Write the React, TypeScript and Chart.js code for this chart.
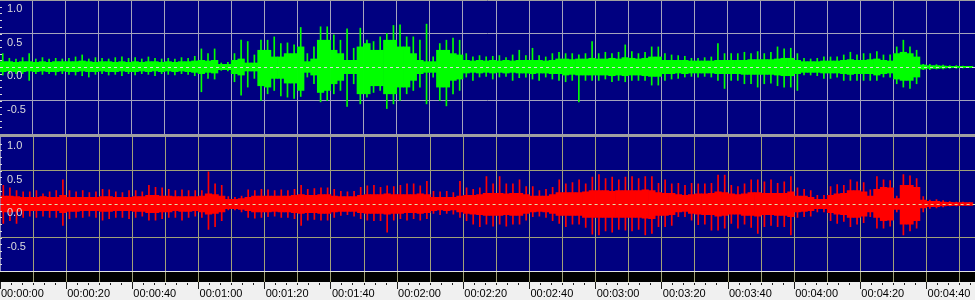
import React, { useEffect, useRef } from 'react';
import { Chart, registerables } from 'chart.js';

Chart.register(...registerables);

// ---- axis / tick data ----
const BIN_SECONDS = 2; // each envelope value covers 2 s of audio
const X_MIN = 0.18;
const X_MAX = 294.64;
const TIME_GRID = [0, 10, 20, 30, 40, 50, 60, 70, 80, 90, 100, 110, 120, 130, 140, 150, 160, 170, 180, 190, 200, 210, 220, 230, 240, 250, 260, 270, 280, 290];
const Y_TICKS = [-1, -0.5, 0, 0.5, 1];
const Y_LABELS = [1, 0.5, 0, -0.5];
const Y_MINOR = [-0.9, -0.8, -0.7, -0.6, -0.5, -0.4, -0.3, -0.2, -0.1, 0, 0.1, 0.2, 0.3, 0.4, 0.5, 0.6, 0.7, 0.8, 0.9];

// ---- green (top channel) envelope, 2 s bins ----
const greenBodyHi = [
  0.08, 0.08, 0.07, 0.08, 0.08, 0.07, 0.08, 0.07, 0.08, 0.08,
  0.08, 0.08, 0.09, 0.08, 0.07, 0.08, 0.08, 0.07, 0.08, 0.07,
  0.08, 0.07, 0.08, 0.08, 0.07, 0.08, 0.07, 0.08, 0.08, 0.09,
  0.1, 0.09, 0.1, 0.04, 0.04, 0.1, 0.12, 0.06, 0.06, 0.25,
  0.25, 0.15, 0.15, 0.2, 0.2, 0.3, 0.08, 0.12, 0.4, 0.4,
  0.25, 0.2, 0.1, 0.1, 0.3, 0.35, 0.25, 0.25, 0.4, 0.4,
  0.3, 0.3, 0.2, 0.1, 0.08, 0.08, 0.25, 0.25, 0.2, 0.18,
  0.1, 0.09, 0.1, 0.09, 0.1, 0.09, 0.1, 0.09, 0.1, 0.1,
  0.1, 0.1, 0.09, 0.1, 0.12, 0.12, 0.11, 0.12, 0.12, 0.13,
  0.12, 0.12, 0.13, 0.12, 0.14, 0.13, 0.12, 0.13, 0.15, 0.15,
  0.1, 0.1, 0.1, 0.1, 0.09, 0.09, 0.09, 0.09, 0.1, 0.1,
  0.1, 0.1, 0.1, 0.11, 0.11, 0.11, 0.11, 0.12, 0.13, 0.13,
  0.1, 0.08, 0.08, 0.08, 0.09, 0.09, 0.09, 0.1, 0.11, 0.1,
  0.1, 0.11, 0.12, 0.1, 0.09, 0.2, 0.22, 0.2, 0.15, 0.03,
  0.02, 0.02, 0.015, 0.01, 0.01, 0.01, 0.01,
];
const greenBodyLo = [
  -0.07, -0.06, -0.07, -0.07, -0.06, -0.07, -0.06, -0.07, -0.07, -0.06,
  -0.07, -0.07, -0.06, -0.07, -0.07, -0.06, -0.07, -0.07, -0.06, -0.07,
  -0.07, -0.06, -0.07, -0.06, -0.07, -0.06, -0.07, -0.06, -0.07, -0.08,
  -0.1, -0.08, -0.09, -0.04, -0.04, -0.1, -0.12, -0.06, -0.06, -0.28,
  -0.3, -0.17, -0.17, -0.24, -0.24, -0.35, -0.08, -0.12, -0.38, -0.35,
  -0.25, -0.2, -0.1, -0.1, -0.4, -0.4, -0.28, -0.28, -0.4, -0.4,
  -0.3, -0.3, -0.2, -0.1, -0.08, -0.08, -0.3, -0.3, -0.2, -0.18,
  -0.09, -0.08, -0.09, -0.08, -0.09, -0.08, -0.09, -0.08, -0.09, -0.09,
  -0.1, -0.09, -0.09, -0.1, -0.1, -0.12, -0.11, -0.12, -0.12, -0.12,
  -0.12, -0.12, -0.13, -0.12, -0.13, -0.12, -0.12, -0.13, -0.14, -0.14,
  -0.1, -0.1, -0.09, -0.1, -0.09, -0.09, -0.09, -0.09, -0.1, -0.1,
  -0.1, -0.1, -0.11, -0.11, -0.11, -0.11, -0.11, -0.12, -0.13, -0.13,
  -0.1, -0.08, -0.08, -0.08, -0.09, -0.09, -0.09, -0.1, -0.11, -0.1,
  -0.1, -0.1, -0.12, -0.1, -0.09, -0.18, -0.2, -0.2, -0.15, -0.03,
  -0.02, -0.02, -0.015, -0.01, -0.01, -0.01, -0.01,
];
const greenPeakHi = [
  0.2, 0.13, 0.12, 0.14, 0.2, 0.12, 0.14, 0.12, 0.13, 0.12,
  0.13, 0.15, 0.18, 0.12, 0.14, 0.13, 0.12, 0.14, 0.15, 0.13,
  0.14, 0.12, 0.15, 0.13, 0.12, 0.13, 0.12, 0.14, 0.13, 0.16,
  0.27, 0.2, 0.27, 0.06, 0.07, 0.2, 0.4, 0.38, 0.18, 0.4,
  0.4, 0.45, 0.35, 0.36, 0.33, 0.59, 0.2, 0.3, 0.6, 0.6,
  0.48, 0.4, 0.57, 0.28, 0.58, 0.4, 0.38, 0.45, 0.5, 0.62,
  0.63, 0.45, 0.45, 0.4, 0.64, 0.15, 0.35, 0.4, 0.43, 0.4,
  0.2, 0.15, 0.17, 0.15, 0.16, 0.17, 0.14, 0.18, 0.25, 0.17,
  0.28, 0.17, 0.15, 0.2, 0.22, 0.2, 0.2, 0.18, 0.2, 0.38,
  0.2, 0.22, 0.2, 0.22, 0.33, 0.23, 0.2, 0.22, 0.3, 0.3,
  0.2, 0.18, 0.17, 0.16, 0.13, 0.13, 0.14, 0.15, 0.35, 0.2,
  0.2, 0.2, 0.22, 0.2, 0.23, 0.2, 0.22, 0.3, 0.27, 0.28,
  0.2, 0.13, 0.12, 0.13, 0.15, 0.15, 0.15, 0.18, 0.22, 0.18,
  0.2, 0.2, 0.23, 0.18, 0.18, 0.3, 0.4, 0.3, 0.25, 0.04,
  0.04, 0.035, 0.03, 0.02, 0.02, 0.015, 0.01,
];
const greenPeakLo = [
  -0.12, -0.1, -0.1, -0.1, -0.2, -0.1, -0.11, -0.1, -0.12, -0.1,
  -0.11, -0.12, -0.13, -0.15, -0.11, -0.1, -0.12, -0.11, -0.13, -0.1,
  -0.12, -0.1, -0.11, -0.13, -0.1, -0.11, -0.12, -0.1, -0.11, -0.13,
  -0.37, -0.17, -0.18, -0.05, -0.06, -0.22, -0.42, -0.3, -0.17, -0.5,
  -0.4, -0.35, -0.43, -0.45, -0.47, -0.44, -0.15, -0.25, -0.52, -0.5,
  -0.4, -0.35, -0.59, -0.25, -0.55, -0.45, -0.38, -0.35, -0.62, -0.55,
  -0.5, -0.4, -0.35, -0.3, -0.55, -0.15, -0.5, -0.58, -0.4, -0.35,
  -0.15, -0.2, -0.15, -0.14, -0.18, -0.15, -0.14, -0.2, -0.16, -0.15,
  -0.18, -0.2, -0.15, -0.18, -0.2, -0.22, -0.2, -0.52, -0.2, -0.2,
  -0.2, -0.18, -0.22, -0.2, -0.22, -0.2, -0.2, -0.2, -0.27, -0.27,
  -0.2, -0.18, -0.17, -0.15, -0.14, -0.15, -0.14, -0.15, -0.2, -0.32,
  -0.2, -0.2, -0.25, -0.25, -0.3, -0.25, -0.24, -0.28, -0.3, -0.3,
  -0.35, -0.12, -0.12, -0.13, -0.17, -0.17, -0.15, -0.2, -0.2, -0.2,
  -0.2, -0.2, -0.2, -0.15, -0.15, -0.25, -0.3, -0.32, -0.25, -0.04,
  -0.04, -0.03, -0.03, -0.02, -0.02, -0.015, -0.01,
];

// ---- red (bottom channel) envelope, 2 s bins ----
const redBodyHi = [
  0.12, 0.12, 0.11, 0.1, 0.1, 0.1, 0.11, 0.1, 0.1, 0.13,
  0.1, 0.1, 0.1, 0.1, 0.1, 0.11, 0.11, 0.1, 0.1, 0.1,
  0.11, 0.11, 0.13, 0.13, 0.12, 0.12, 0.11, 0.11, 0.11, 0.11,
  0.12, 0.15, 0.14, 0.12, 0.07, 0.07, 0.08, 0.1, 0.12, 0.12,
  0.12, 0.12, 0.12, 0.12, 0.13, 0.14, 0.13, 0.13, 0.14, 0.14,
  0.12, 0.11, 0.11, 0.11, 0.13, 0.14, 0.14, 0.14, 0.15, 0.14,
  0.14, 0.14, 0.14, 0.15, 0.14, 0.1, 0.1, 0.1, 0.1, 0.12,
  0.13, 0.13, 0.14, 0.16, 0.16, 0.16, 0.15, 0.16, 0.16, 0.14,
  0.12, 0.12, 0.12, 0.14, 0.17, 0.17, 0.17, 0.17, 0.18, 0.2,
  0.2, 0.2, 0.19, 0.2, 0.2, 0.2, 0.2, 0.21, 0.2, 0.17,
  0.16, 0.16, 0.14, 0.13, 0.14, 0.15, 0.15, 0.16, 0.18, 0.17,
  0.15, 0.14, 0.15, 0.17, 0.17, 0.16, 0.16, 0.16, 0.16, 0.18,
  0.12, 0.12, 0.1, 0.07, 0.07, 0.13, 0.15, 0.16, 0.2, 0.2,
  0.18, 0.12, 0.22, 0.25, 0.24, 0.08, 0.28, 0.28, 0.25, 0.06,
  0.04, 0.04, 0.03, 0.025, 0.02, 0.02, 0.02,
];
const redBodyLo = [
  -0.12, -0.12, -0.11, -0.1, -0.1, -0.1, -0.1, -0.1, -0.1, -0.13,
  -0.11, -0.11, -0.1, -0.1, -0.1, -0.11, -0.11, -0.1, -0.1, -0.1,
  -0.11, -0.11, -0.13, -0.13, -0.12, -0.12, -0.1, -0.11, -0.11, -0.1,
  -0.12, -0.15, -0.14, -0.12, -0.07, -0.07, -0.08, -0.1, -0.12, -0.12,
  -0.12, -0.11, -0.12, -0.12, -0.13, -0.14, -0.13, -0.13, -0.14, -0.14,
  -0.12, -0.11, -0.11, -0.11, -0.13, -0.14, -0.14, -0.14, -0.15, -0.14,
  -0.14, -0.13, -0.13, -0.14, -0.13, -0.1, -0.09, -0.1, -0.09, -0.12,
  -0.14, -0.15, -0.16, -0.17, -0.17, -0.17, -0.16, -0.17, -0.17, -0.14,
  -0.12, -0.11, -0.12, -0.14, -0.17, -0.17, -0.17, -0.17, -0.2, -0.2,
  -0.2, -0.2, -0.2, -0.2, -0.2, -0.2, -0.2, -0.21, -0.22, -0.17,
  -0.17, -0.16, -0.12, -0.11, -0.14, -0.15, -0.16, -0.16, -0.18, -0.17,
  -0.15, -0.15, -0.17, -0.17, -0.18, -0.16, -0.16, -0.17, -0.17, -0.19,
  -0.12, -0.11, -0.1, -0.07, -0.07, -0.13, -0.15, -0.16, -0.2, -0.2,
  -0.18, -0.12, -0.2, -0.25, -0.24, -0.08, -0.3, -0.3, -0.25, -0.06,
  -0.04, -0.04, -0.03, -0.025, -0.02, -0.02, -0.02,
];
const redPeakHi = [
  0.28, 0.24, 0.2, 0.18, 0.18, 0.2, 0.15, 0.18, 0.2, 0.36,
  0.2, 0.18, 0.2, 0.17, 0.18, 0.22, 0.21, 0.18, 0.17, 0.2,
  0.2, 0.18, 0.28, 0.25, 0.24, 0.22, 0.2, 0.21, 0.2, 0.2,
  0.2, 0.48, 0.3, 0.28, 0.11, 0.1, 0.12, 0.21, 0.2, 0.22,
  0.21, 0.2, 0.21, 0.2, 0.22, 0.28, 0.22, 0.23, 0.24, 0.24,
  0.22, 0.19, 0.18, 0.19, 0.25, 0.27, 0.28, 0.25, 0.27, 0.26,
  0.28, 0.3, 0.3, 0.27, 0.34, 0.19, 0.18, 0.19, 0.17, 0.34,
  0.24, 0.22, 0.24, 0.41, 0.3, 0.41, 0.3, 0.3, 0.36, 0.26,
  0.26, 0.2, 0.22, 0.25, 0.36, 0.3, 0.32, 0.36, 0.3, 0.4,
  0.44, 0.38, 0.4, 0.36, 0.4, 0.41, 0.38, 0.41, 0.41, 0.31,
  0.36, 0.3, 0.31, 0.28, 0.31, 0.3, 0.3, 0.31, 0.43, 0.43,
  0.28, 0.26, 0.3, 0.36, 0.36, 0.33, 0.36, 0.31, 0.33, 0.41,
  0.24, 0.22, 0.2, 0.13, 0.13, 0.26, 0.29, 0.28, 0.36, 0.33,
  0.32, 0.21, 0.41, 0.36, 0.35, 0.12, 0.44, 0.42, 0.38, 0.11,
  0.06, 0.065, 0.05, 0.035, 0.03, 0.03, 0.025,
];
const redPeakLo = [
  -0.29, -0.25, -0.29, -0.2, -0.18, -0.2, -0.18, -0.2, -0.2, -0.32,
  -0.22, -0.2, -0.2, -0.18, -0.2, -0.24, -0.22, -0.2, -0.2, -0.22,
  -0.2, -0.18, -0.24, -0.24, -0.22, -0.2, -0.2, -0.24, -0.2, -0.18,
  -0.2, -0.38, -0.34, -0.25, -0.09, -0.09, -0.12, -0.2, -0.21, -0.2,
  -0.19, -0.18, -0.2, -0.2, -0.22, -0.32, -0.24, -0.23, -0.24, -0.24,
  -0.2, -0.17, -0.16, -0.18, -0.22, -0.24, -0.25, -0.25, -0.42, -0.24,
  -0.22, -0.24, -0.22, -0.24, -0.22, -0.14, -0.16, -0.14, -0.15, -0.2,
  -0.25, -0.3, -0.34, -0.3, -0.33, -0.3, -0.33, -0.3, -0.3, -0.24,
  -0.19, -0.18, -0.2, -0.25, -0.29, -0.34, -0.3, -0.3, -0.35, -0.45,
  -0.46, -0.4, -0.42, -0.38, -0.39, -0.4, -0.38, -0.46, -0.44, -0.34,
  -0.34, -0.32, -0.19, -0.19, -0.24, -0.31, -0.3, -0.39, -0.39, -0.36,
  -0.29, -0.36, -0.3, -0.35, -0.44, -0.34, -0.32, -0.34, -0.34, -0.46,
  -0.2, -0.19, -0.18, -0.12, -0.12, -0.25, -0.29, -0.26, -0.34, -0.3,
  -0.28, -0.19, -0.36, -0.36, -0.33, -0.12, -0.46, -0.4, -0.36, -0.12,
  -0.065, -0.06, -0.045, -0.03, -0.03, -0.025, -0.02,
];

// ---- styling ----
const NAVY = '#000080';
const FONT = '"Liberation Sans", Arial, sans-serif';
const LABEL_COLOR = '#dcdcdc';

type Panel = {
  name: string;
  color: string;
  grid: string;
  zero: string;
  topLine: string;
  ruler: boolean;
  bodyHi: number[];
  bodyLo: number[];
  peakHi: number[];
  peakLo: number[];
};

const toBars = (hi: number[], lo: number[]) =>
  hi.map((h, i) => ({ x: i * BIN_SECONDS + BIN_SECONDS / 2, y: [lo[i], h] }));

const pad2 = (n: number) => String(n).padStart(2, '0');
const fmtTime = (s: number) => `${pad2(Math.floor(s / 3600))}:${pad2(Math.floor((s % 3600) / 60))}:${pad2(s % 60)}`;

function panelPlugin(p: Panel) {
  return {
    id: 'panel_' + p.name,
    beforeDraw(chart: any) {
      const { ctx, chartArea: a } = chart;
      ctx.save();
      ctx.fillStyle = NAVY;
      ctx.fillRect(a.left, a.top, a.right - a.left, a.bottom - a.top);
      if (p.ruler) {
        ctx.fillStyle = '#f0f0f0';
        ctx.fillRect(0, a.bottom, chart.width, chart.height - a.bottom);
        ctx.fillStyle = '#e4e4e4';
        ctx.fillRect(0, a.bottom, chart.width, 1);
        ctx.fillStyle = '#000000';
        ctx.fillRect(0, a.bottom + 1, chart.width, 10);
      }
      ctx.restore();
    },
    afterDraw(chart: any) {
      const { ctx, chartArea: a, scales } = chart;
      const xs = scales.x;
      const ys = scales.y;
      ctx.save();
      // dashed centre line
      const y0 = Math.round(ys.getPixelForValue(0)) + 0.5;
      ctx.strokeStyle = p.zero;
      ctx.lineWidth = 1;
      ctx.setLineDash([3, 3]);
      ctx.beginPath();
      ctx.moveTo(a.left, y0);
      ctx.lineTo(a.right, y0);
      ctx.stroke();
      ctx.setLineDash([]);
      // little marks on the left edge
      ctx.fillStyle = LABEL_COLOR;
      for (const v of Y_MINOR) {
        const py = Math.round(ys.getPixelForValue(v));
        ctx.fillRect(0, py, 2, 1);
      }
      // amplitude labels
      ctx.font = `11px ${FONT}`;
      ctx.textAlign = 'left';
      ctx.textBaseline = 'alphabetic';
      for (const v of Y_LABELS) {
        ctx.fillText(v.toFixed(1), 7, Math.round(ys.getPixelForValue(v)) + 12);
      }
      if (p.ruler) {
        ctx.fillStyle = p.grid;
        for (const t of TIME_GRID) {
          if (t <= 0) continue;
          const px = Math.round(xs.getPixelForValue(t) - 0.5);
          ctx.fillRect(px, a.bottom + 1, 1, 10);
        }
        ctx.fillStyle = '#202020';
        for (let k = 0; k * 10 / 3 <= X_MAX; k++) {
          const t = (k * 10) / 3;
          const px = Math.round(xs.getPixelForValue(t) - 0.5);
          if (k % 6 === 0) ctx.fillRect(px, a.bottom + 11, 1, 7);
          else ctx.fillRect(px, a.bottom + 12, 1, 2);
        }
      }
      ctx.restore();
    },
  };
}

function buildConfig(p: Panel): any {
  return {
    type: 'bar',
    data: {
      datasets: [
        {
          data: toBars(p.bodyHi, p.bodyLo),
          backgroundColor: p.color,
          borderWidth: 0,
          barPercentage: 1,
          categoryPercentage: 1,
          grouped: false,
        },
        {
          data: toBars(p.peakHi, p.peakLo),
          backgroundColor: p.color,
          borderWidth: 0,
          barThickness: 1,
          grouped: false,
        },
      ],
    },
    options: {
      responsive: false,
      animation: false,
      devicePixelRatio: 1,
      events: [],
      layout: { padding: 0 },
      plugins: { legend: { display: false }, tooltip: { enabled: false } },
      scales: {
        x: {
          type: 'linear',
          min: X_MIN,
          max: X_MAX,
          offset: false,
          z: 1,
          afterBuildTicks: (s: any) => {
            s.ticks = TIME_GRID.map((v) => ({ value: v }));
          },
          afterFit: (s: any) => {
            s.height = p.ruler ? 29 : 0;
          },
          grid: {
            offset: false,
            color: (c: any) => (c.tick && c.tick.value === 0 ? 'rgba(0,0,0,0)' : p.grid),
            drawTicks: p.ruler,
            tickLength: 16,
            tickColor: 'rgba(0,0,0,0)',
          },
          border: { display: false },
          ticks: {
            display: p.ruler,
            autoSkip: false,
            maxRotation: 0,
            minRotation: 0,
            align: 'start',
            padding: 0,
            labelOffset: 1,
            color: '#000000',
            font: { family: FONT, size: 11 },
            callback: (v: any) => (Number(v) % 20 === 0 ? fmtTime(Number(v)) : ''),
          },
        },
        y: {
          type: 'linear',
          min: -1,
          max: 1,
          z: 1,
          afterBuildTicks: (s: any) => {
            s.ticks = Y_TICKS.map((v) => ({ value: v }));
          },
          afterFit: (s: any) => {
            s.width = 0;
          },
          grid: {
            color: (c: any) => {
              const v = c.tick ? c.tick.value : 0;
              if (v === 1) return p.topLine;
              if (v === 0 || v === -1) return 'rgba(0,0,0,0)';
              return p.grid;
            },
            drawTicks: false,
          },
          border: { display: false },
          ticks: { display: false },
        },
      },
    },
    plugins: [panelPlugin(p)],
  };
}

const TOP: Panel = {
  name: 'left',
  color: '#00ff00',
  grid: '#a4a4bc',
  zero: '#d8d8d8',
  topLine: '#a0a0a0',
  ruler: false,
  bodyHi: greenBodyHi,
  bodyLo: greenBodyLo,
  peakHi: greenPeakHi,
  peakLo: greenPeakLo,
};

const BOTTOM: Panel = {
  name: 'right',
  color: '#ff0000',
  grid: '#a0a078',
  zero: '#e0e0a8',
  topLine: 'rgba(0,0,0,0)',
  ruler: true,
  bodyHi: redBodyHi,
  bodyLo: redBodyLo,
  peakHi: redPeakHi,
  peakLo: redPeakLo,
};

export default function App() {
  const topRef = useRef<HTMLCanvasElement>(null);
  const botRef = useRef<HTMLCanvasElement>(null);

  useEffect(() => {
    const c1 = new Chart(topRef.current as HTMLCanvasElement, buildConfig(TOP));
    const c2 = new Chart(botRef.current as HTMLCanvasElement, buildConfig(BOTTOM));
    return () => {
      c1.destroy();
      c2.destroy();
    };
  }, []);

  return (
    <div style={{ position: 'fixed', left: 0, top: 0, width: 975, height: 300, background: '#f0f0f0', overflow: 'hidden' }}>
      <canvas ref={topRef} width={975} height={134} style={{ position: 'absolute', left: 0, top: 0, width: 975, height: 134 }} />
      <div style={{ position: 'absolute', left: 0, top: 134, width: 975, height: 3, background: '#a0a0a0' }} />
      <canvas ref={botRef} width={975} height={163} style={{ position: 'absolute', left: 0, top: 137, width: 975, height: 163 }} />
    </div>
  );
}
